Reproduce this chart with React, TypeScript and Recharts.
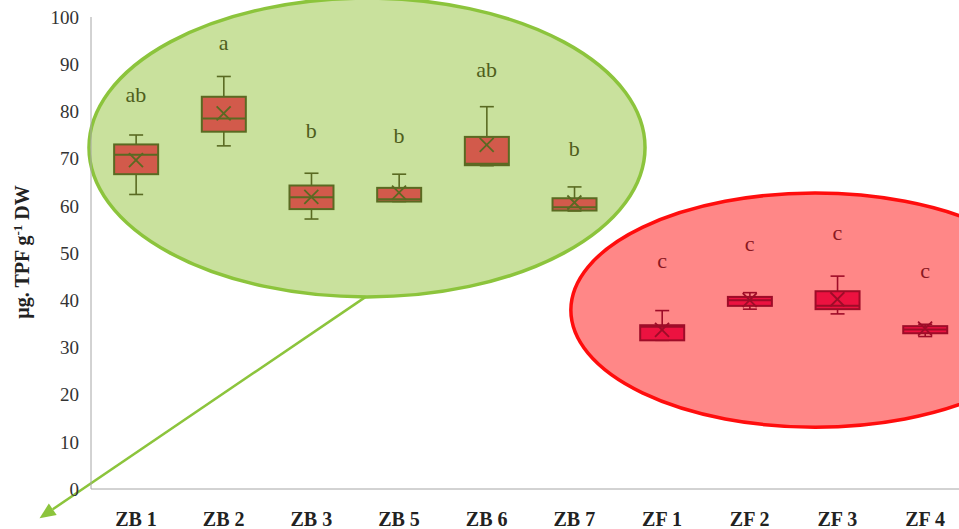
import { ComposedChart, Bar, Scatter, XAxis, YAxis, ReferenceArea, ReferenceLine } from "recharts";

const categories = ["ZB 1", "ZB 2", "ZB 3", "ZB 5", "ZB 6", "ZB 7", "ZF 1", "ZF 2", "ZF 3", "ZF 4"];
const whiskerLow = [62.4, 72.7, 57.2, 60.9, 68.5, 58.9, 31.5, 38.1, 37.1, 32.3];
const q1 = [66.7, 75.7, 59.3, 60.9, 68.6, 59.0, 31.5, 38.8, 38.1, 33.0];
const median = [70.8, 78.5, 61.8, 61.4, 68.9, 59.7, 34.4, 40.0, 38.8, 33.8];
const q3 = [73.0, 83.1, 64.3, 63.8, 74.6, 61.6, 34.7, 40.7, 41.9, 34.5];
const whiskerHigh = [75.0, 87.4, 66.9, 66.7, 81.0, 64.0, 37.8, 41.6, 45.1, 34.9];
const means = [69.7, 79.6, 61.9, 62.8, 72.9, 60.7, 33.7, 40.0, 40.2, 34.0];
const letters = ["ab", "a", "b", "b", "ab", "b", "c", "c", "c", "c"];
const letterLevel = [83.5, 94.7, 76.0, 75.0, 88.8, 72.2, 48.5, 52.0, 54.4, 46.2];
const yTicks = [0, 10, 20, 30, 40, 50, 60, 70, 80, 90, 100];

const data = categories.map((name, i) => ({
  idx: i,
  name,
  group: name.slice(0, 2),
  range: [whiskerLow[i], whiskerHigh[i]],
  q1: q1[i],
  median: median[i],
  q3: q3[i],
  mean: means[i],
  letter: letters[i],
  letterAt: letterLevel[i],
}));

const styles: Record<string, { fill: string; stroke: string; text: string }> = {
  ZB: { fill: "#d25a4b", stroke: "#5a6a22", text: "#4f5e1c" },
  ZF: { fill: "#ec1240", stroke: "#9e0c28", text: "#8a1822" },
};

const serif = "'Liberation Serif', 'DejaVu Serif', serif";

function BoxShape(props: any) {
  const { x, y, width, height, payload } = props;
  const [lo, hi] = payload.range;
  const toY = (v: number) => y + (height * (hi - v)) / (hi - lo);
  const st = styles[payload.group];
  const cx = x + width / 2;
  const cap = 7;
  return (
    <g stroke={st.stroke} strokeWidth={1.6}>
      <line x1={cx} x2={cx} y1={toY(hi)} y2={toY(payload.q3)} />
      <line x1={cx} x2={cx} y1={toY(payload.q1)} y2={toY(lo)} />
      <line x1={cx - cap} x2={cx + cap} y1={toY(hi)} y2={toY(hi)} />
      <line x1={cx - cap} x2={cx + cap} y1={toY(lo)} y2={toY(lo)} />
      <rect x={x} y={toY(payload.q3)} width={width} height={toY(payload.q1) - toY(payload.q3)} fill={st.fill} strokeWidth={2} />
      <line x1={x} x2={x + width} y1={toY(payload.median)} y2={toY(payload.median)} strokeWidth={2} />
    </g>
  );
}

function MeanMark(props: any) {
  const { cx, cy, payload } = props;
  const st = styles[payload.group];
  const s = 7;
  return (
    <g stroke={st.stroke} strokeWidth={1.8}>
      <line x1={cx - s} y1={cy - s} x2={cx + s} y2={cy + s} />
      <line x1={cx - s} y1={cy + s} x2={cx + s} y2={cy - s} />
    </g>
  );
}

function LetterMark(props: any) {
  const { cx, cy, payload } = props;
  return (
    <text x={cx} y={cy} textAnchor="middle" dominantBaseline="central" fontFamily={serif} fontSize={22} fill={styles[payload.group].text}>
      {payload.letter}
    </text>
  );
}

function Ellipse(fill: string, stroke: string) {
  return (p: any) => (
    <ellipse cx={p.x + p.width / 2} cy={p.y + p.height / 2} rx={Math.abs(p.width) / 2} ry={Math.abs(p.height) / 2} fill={fill} stroke={stroke} strokeWidth={3.5} />
  );
}

function Arrow(p: any) {
  const { x1, y1, x2, y2 } = p;
  const ang = Math.atan2(y2 - y1, x2 - x1);
  const L = 16, W = 7;
  const bx = x2 - L * Math.cos(ang), by = y2 - L * Math.sin(ang);
  const pts = `${x2},${y2} ${bx + W * Math.sin(ang)},${by - W * Math.cos(ang)} ${bx - W * Math.sin(ang)},${by + W * Math.cos(ang)}`;
  return (
    <g>
      <line x1={x1} y1={y1} x2={bx} y2={by} stroke="#8cc43c" strokeWidth={2.5} />
      <polygon points={pts} fill="#8cc43c" />
    </g>
  );
}

function YLabel() {
  return (
    <text transform="translate(29, 252) rotate(-90)" textAnchor="middle" fontFamily={serif} fontSize={20} fontWeight="bold" fill="#222">
      µg. TPF g<tspan dy={-7} fontSize={13}>-1</tspan><tspan dy={7}> DW</tspan>
    </text>
  );
}

export default function App() {
  return (
    <div style={{ position: "absolute", left: 0, top: 0, width: 959, height: 529, overflow: "hidden", background: "#fff" }}>
      <ComposedChart width={959} height={529} data={data} margin={{ top: 17, right: 0, bottom: 10, left: 0 }}>
        <ReferenceArea x1={-0.536} x2={5.806} y1={40.7} y2={104} ifOverflow="visible" shape={Ellipse("#c9e19d", "#8cc43c")} />
        <ReferenceArea x1={4.96} x2={10.53} y1={13.1} y2={62.7} ifOverflow="visible" shape={Ellipse("#ff8787", "#ff0d0d")} />
        <ReferenceLine segment={[{ x: 2.62, y: 40.7 }, { x: -1.1, y: -6.2 }]} ifOverflow="visible" shape={Arrow} />
        <XAxis
          dataKey="idx"
          type="number"
          domain={[-0.513, 9.387]}
          ticks={data.map((d) => d.idx)}
          tickFormatter={(v) => categories[v]}
          allowDataOverflow
          stroke="#a6a6a6"
          tickLine={false}
          tickMargin={17}
          height={30}
          tick={{ fontFamily: serif, fontSize: 20, fontWeight: "bold", fill: "#222" }}
        />
        <YAxis
          domain={[0, 100]}
          ticks={yTicks}
          stroke="#a6a6a6"
          tickLine={false}
          tickSize={0}
          tickMargin={12}
          width={91}
          tick={{ fontFamily: serif, fontSize: 19, fill: "#333" }}
          label={<YLabel />}
        />
        <Bar dataKey="range" barSize={44} shape={BoxShape} isAnimationActive={false} />
        <Scatter dataKey="mean" shape={MeanMark} isAnimationActive={false} />
        <Scatter dataKey="letterAt" shape={LetterMark} isAnimationActive={false} />
      </ComposedChart>
    </div>
  );
}
